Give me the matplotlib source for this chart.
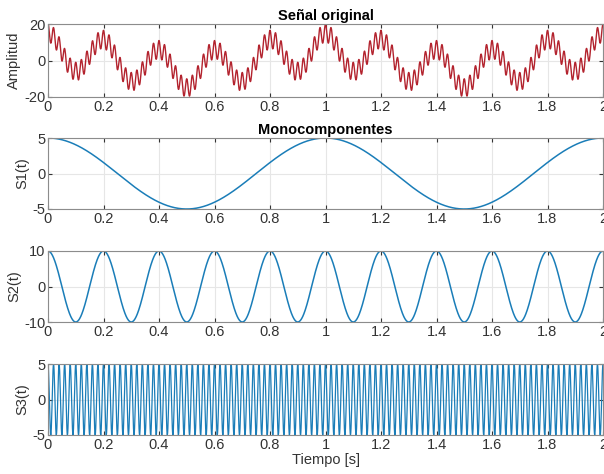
import numpy as np
import matplotlib
matplotlib.use("Agg")
import matplotlib.pyplot as plt

plt.rcParams['font.family'] = ['Liberation Sans', 'DejaVu Sans']
plt.rcParams['axes.unicode_minus'] = False  # guion simple como en MATLAB

# parametros de las componentes
amplitudes = [5, 10, 5]      # S1, S2, S3
frecuencias = [1, 5, 50]     # Hz
fs = 1000
duracion = 2

ylabels = ['Amplitud', 'S1(t)', 'S2(t)', 'S3(t)']
ylims = [(-20, 20), (-5, 5), (-10, 10), (-5, 5)]
yticks = [[-20, 0, 20], [-5, 0, 5], [-10, 0, 10], [-5, 0, 5]]
xticks = [0, 0.2, 0.4, 0.6, 0.8, 1, 1.2, 1.4, 1.6, 1.8, 2]
xticklabels = ['0', '0.2', '0.4', '0.6', '0.8', '1', '1.2', '1.4', '1.6', '1.8', '2']

t = np.arange(0, duracion + 1 / fs, 1 / fs)
comps = [a * np.cos(2 * np.pi * f * t) for a, f in zip(amplitudes, frecuencias)]
senal = sum(comps)

W, H = 604, 474
fig = plt.figure(figsize=(W / 100, H / 100), dpi=100)

# posiciones en pixeles (top, bottom)
rows = [(24, 97), (138, 209), (251, 322), (364, 435)]
left, right = 48, 603

series = [senal] + comps
colors = ['#B3232E', '#1A7DB8', '#1A7DB8', '#1A7DB8']
widths = [1.0, 1.1, 1.1, 0.9]
axes = []
for i, (top, bot) in enumerate(rows):
    ax = fig.add_axes([left / W, 1 - bot / H, (right - left) / W, (bot - top) / H])
    ax.plot(t, series[i], color=colors[i], lw=widths[i])
    ax.set_xlim(0, 2)
    ax.set_ylim(*ylims[i])
    ax.set_xticks(xticks)
    ax.set_xticklabels(xticklabels)
    ax.set_yticks(yticks[i])
    ax.grid(True, color='#e6e6e6', lw=0.8)
    ax.set_axisbelow(True)
    ax.tick_params(direction='in', length=3, labelsize=10.5, colors='#333333',
                   top=True, right=True, pad=2)
    for s in ax.spines.values():
        s.set_color('#8c8c8c')
        s.set_linewidth(0.8)
    ax.set_ylabel(ylabels[i], fontsize=10.5, color='#333333', labelpad=2)
    axes.append(ax)

axes[0].set_title('Señal original', fontsize=10.5, fontweight='bold', pad=3)
axes[1].set_title('Monocomponentes', fontsize=10.5, fontweight='bold', pad=3)
axes[3].set_xlabel('Tiempo [s]', fontsize=10.5, color='#333333', labelpad=1)

fig.savefig('out.png', dpi=100)
